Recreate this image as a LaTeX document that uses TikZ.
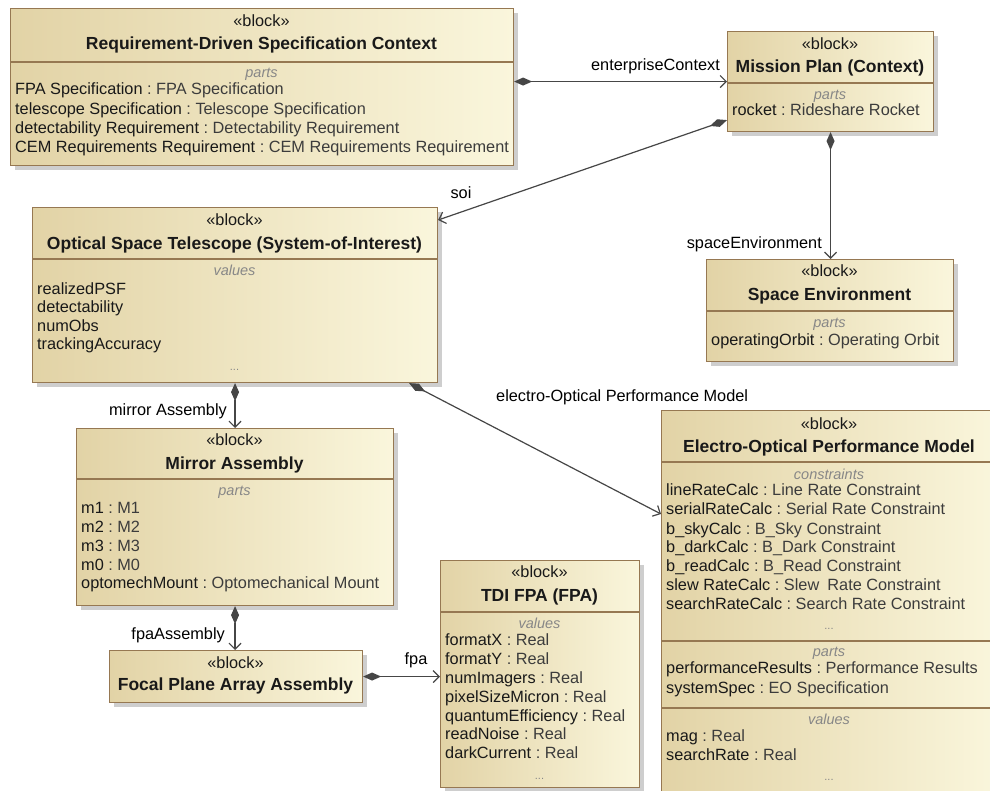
\documentclass[tikz,border=0pt]{standalone}
\usepackage{fontspec}
\setmainfont{Liberation Sans}
\usetikzlibrary{arrows.meta,shadows}

\definecolor{blkL}{RGB}{226,211,166}
\definecolor{blkR}{RGB}{250,246,220}
\definecolor{blkBorder}{RGB}{150,120,82}
\definecolor{nameC}{RGB}{25,25,25}
\definecolor{typeC}{RGB}{60,60,60}
\definecolor{compC}{RGB}{135,135,135}
\definecolor{connC}{RGB}{70,70,70}

\newcommand\bodyf{\fontsize{16.3pt}{19pt}\selectfont}
\newcommand\titlef{\fontsize{17.5pt}{20pt}\selectfont\bfseries}
\newcommand\compf{\fontsize{14.5pt}{17pt}\selectfont\itshape}
\newcommand\dotf{\fontsize{11pt}{13pt}\selectfont}

% one "name : Type" row of a compartment
\newcommand\itm[5]{\node[row] (#1) at (#2,#3) {#4\ \textcolor{typeC}{:\ #5}};}

\begin{document}
\begin{tikzpicture}[x=1pt,y=-1pt,
  blk/.style={draw=blkBorder, line width=1.1pt, left color=blkL, right color=blkR,
    inner sep=0pt, anchor=north west,
    drop shadow={shadow xshift=4pt, shadow yshift=-4pt, fill=black!38}},
  sepline/.style={draw=blkBorder, line width=1.1pt},
  stereo/.style={font=\bodyf, text=nameC, inner sep=0pt, anchor=mid},
  title/.style={font=\titlef, text=nameC, inner sep=0pt, anchor=mid},
  comp/.style={font=\compf, text=compC, inner sep=0pt, anchor=mid},
  row/.style={font=\bodyf, text=nameC, inner sep=0pt, anchor=mid west},
  dotrow/.style={font=\dotf, text=compC, inner sep=0pt, anchor=mid},
  lbl/.style={font=\bodyf, text=black, inner sep=0pt},
  conn/.style={draw=connC, line width=1.2pt,
    {Diamond[length=18pt,width=8pt]}-{Straight Barb[length=6pt,width=12pt]}}
]
\fill[white] (0,0) rectangle (990,790);
\useasboundingbox (0,0) rectangle (990,790);

% ---------- Requirement-Driven Specification Context ----------
\node[blk, minimum width=503pt, minimum height=157pt] (A) at (10,8) {};
\draw[sepline] (10,62) -- (513,62);
\node[stereo] (Ast) at (261.5,24) {«block»};
\node[title] (Att) at (261.5,47) {Requirement-Driven Specification Context};
\node[comp] (Acp) at (261.5,75) {parts};
\itm{a1}{15}{91.5}{FPA Specification}{FPA Specification}
\itm{a2}{15}{111.5}{telescope Specification}{Telescope Specification}
\itm{a3}{15}{130.5}{detectability Requirement}{Detectability Requirement}
\itm{a4}{15}{150}{CEM Requirements Requirement}{CEM Requirements Requirement}

% ---------- Mission Plan (Context) ----------
\node[blk, minimum width=206pt, minimum height=100pt] (B) at (727,31) {};
\draw[sepline] (727,83) -- (933,83);
\node[stereo] (Bst) at (830,47) {«block»};
\node[title] (Btt) at (830,70) {Mission Plan (Context)};
\node[comp] (Bcp) at (830,97) {parts};
\itm{b1}{732}{113}{rocket}{Rideshare Rocket}

% ---------- Optical Space Telescope ----------
\node[blk, minimum width=405pt, minimum height=175pt] (C) at (32,207) {};
\draw[sepline] (32,259) -- (437,259);
\node[stereo] (Cst) at (234.5,223) {«block»};
\node[title] (Ctt) at (234.5,247) {Optical Space Telescope (System-of-Interest)};
\node[comp] (Ccp) at (234.5,273) {values};
\node[row] (c1) at (37,292) {realizedPSF};
\node[row] (c2) at (37,310) {detectability};
\node[row] (c3) at (37,328.5) {numObs};
\node[row] (c4) at (37,347) {trackingAccuracy};
\node[dotrow] (c5) at (234.5,368) {...};

% ---------- Space Environment ----------
\node[blk, minimum width=247pt, minimum height=102pt] (D) at (706,259) {};
\draw[sepline] (706,311) -- (953,311);
\node[stereo] (Dst) at (829.5,274) {«block»};
\node[title] (Dtt) at (829.5,298) {Space Environment};
\node[comp] (Dcp) at (829.5,325) {parts};
\itm{d1}{711}{343}{operatingOrbit}{Operating Orbit}

% ---------- Mirror Assembly ----------
\node[blk, minimum width=317pt, minimum height=177pt] (E) at (76,428) {};
\draw[sepline] (76,479) -- (393,479);
\node[stereo] (Est) at (234.5,443) {«block»};
\node[title] (Ett) at (234.5,467) {Mirror Assembly};
\node[comp] (Ecp) at (234.5,493) {parts};
\itm{e1}{81}{511}{m1}{M1}
\itm{e2}{81}{530}{m2}{M2}
\itm{e3}{81}{549}{m3}{M3}
\itm{e4}{81}{567.5}{m0}{M0}
\itm{e5}{81}{586}{optomechMount}{Optomechanical Mount}

% ---------- Focal Plane Array Assembly ----------
\node[blk, minimum width=253pt, minimum height=52pt] (F) at (109,650) {};
\node[stereo] (Fst) at (235.5,666) {«block»};
\node[title] (Ftt) at (235.5,688) {Focal Plane Array Assembly};

% ---------- TDI FPA (FPA) ----------
\node[blk, minimum width=199pt, minimum height=227pt] (G) at (440,560) {};
\draw[sepline] (440,612) -- (639,612);
\node[stereo] (Gst) at (539.5,575) {«block»};
\node[title] (Gtt) at (539.5,599) {TDI FPA (FPA)};
\node[comp] (Gcp) at (539.5,626) {values};
\itm{g1}{445}{643}{formatX}{Real}
\itm{g2}{445}{662}{formatY}{Real}
\itm{g3}{445}{681}{numImagers}{Real}
\itm{g4}{445}{699.5}{pixelSizeMicron}{Real}
\itm{g5}{445}{718.5}{quantumEfficiency}{Real}
\itm{g6}{445}{737}{readNoise}{Real}
\itm{g7}{445}{756}{darkCurrent}{Real}
\node[dotrow] (g8) at (539.5,777) {...};

% ---------- Electro-Optical Performance Model ----------
\node[blk, minimum width=336pt, minimum height=400pt] (H) at (661,410) {};
\draw[sepline] (661,462) -- (997,462);
\draw[sepline] (661,641) -- (997,641);
\draw[sepline] (661,708) -- (997,708);
\node[stereo] (Hst) at (829,427) {«block»};
\node[title] (Htt) at (829,450) {Electro-Optical Performance Model};
\node[comp] (Hc1) at (829,477) {constraints};
\itm{h1}{666}{493}{lineRateCalc}{Line Rate Constraint}
\itm{h2}{666}{512}{serialRateCalc}{Serial Rate Constraint}
\itm{h3}{666}{531.5}{b\_skyCalc}{B\_Sky Constraint}
\itm{h4}{666}{550}{b\_darkCalc}{B\_Dark Constraint}
\itm{h5}{666}{569}{b\_readCalc}{B\_Read Constraint}
\itm{h6}{666}{588}{slew RateCalc}{Slew\enspace Rate Constraint}
\itm{h7}{666}{607}{searchRateCalc}{Search Rate Constraint}
\node[dotrow] (h8) at (829,627) {...};
\node[comp] (Hc2) at (829,654) {parts};
\itm{h9}{666}{671}{performanceResults}{Performance Results}
\itm{h10}{666}{691}{systemSpec}{EO Specification}
\node[comp] (Hc3) at (829,722) {values};
\itm{h11}{666}{739}{mag}{Real}
\itm{h12}{666}{758}{searchRate}{Real}
\node[dotrow] (h13) at (829,778) {...};

% ---------- composition connectors ----------
\draw[conn] (A.east |- B.west) -- (B.west);
\draw[conn] ([yshift=12pt]B.south west) -- ([yshift=-13pt]C.north east);
\draw[conn] (B.south) -- (B.south |- D.north);
\draw[conn] (C.south) -- (C.south |- E.north);
\draw[conn] ([xshift=-29pt]C.south east) -- ([yshift=-104pt]H.north west);
\draw[conn] (E.south) -- (E.south |- F.north);
\draw[conn] (F.east) -- (F.east -| G.west);

% ---------- role labels ----------
\node[lbl, anchor=mid east] (l1) at (720,68) {enterpriseContext};
\node[lbl, anchor=mid] (l2) at (461,196) {soi};
\node[lbl, anchor=mid east] (l3) at (822,246) {spaceEnvironment};
\node[lbl, anchor=mid east] (l4) at (227,413) {mirror Assembly};
\node[lbl, anchor=mid west] (l5) at (496,399) {electro-Optical Performance Model};
\node[lbl, anchor=mid east] (l6) at (225,637) {fpaAssembly};
\node[lbl, anchor=mid] (l7) at (416,662) {fpa};
\end{tikzpicture}
\end{document}
